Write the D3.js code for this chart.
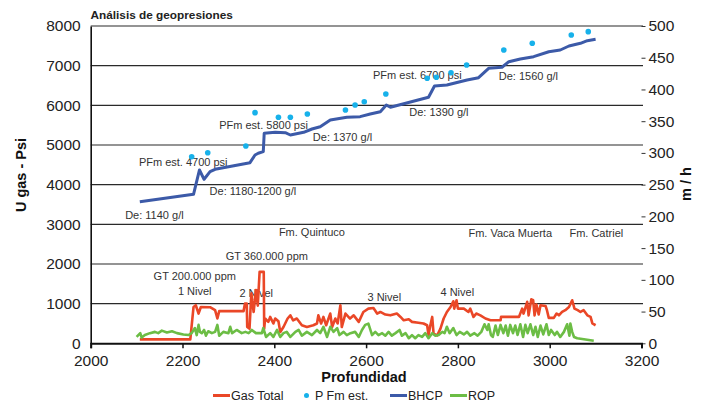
<!DOCTYPE html>
<html>
<head>
<meta charset="utf-8">
<script src="https://cdn.jsdelivr.net/npm/d3@7"></script>
<style>
  body { margin: 0; background: #fff; }
  svg { font-family: "Liberation Sans", Arial, sans-serif; }
</style>
</head>
<body>
<svg id="chart" width="702" height="406"></svg>
<script>
// Gas Total (U gas), left axis
const gasDepth = [2107,2217,2224,2229,2235,2240,2260,2271,2276,2280,2333,2336,2340,2341,2346,2350,2355,2360,2364,2368,2377,2378,2380,2387,2391,2398,2402,2409,2413,2420,2429,2435,2441,2449,2460,2471,2485,2493,2496,2502,2507,2513,2522,2526,2533,2538,2544,2547,2555,2565,2573,2584,2594,2605,2616,2624,2631,2642,2653,2667,2675,2682,2693,2700,2714,2725,2733,2736,2740,2744,2747,2755,2762,2769,2776,2784,2790,2792,2797,2800,2813,2823,2827,2834,2840,2849,2860,2871,2893,2894,2933,2940,2943,2951,2954,2960,2964,2967,2971,2976,2980,2991,2994,2998,3009,3015,3020,3027,3034,3042,3049,3054,3061,3067,3074,3082,3089,3093,3100];
const gasValue = [100,100,915,960,750,915,910,835,625,810,810,1000,1000,410,370,1260,790,1340,950,1800,1800,370,625,540,665,500,625,555,285,410,625,705,580,625,455,410,455,500,705,500,665,455,750,410,625,500,960,410,750,625,705,540,790,875,890,750,790,725,705,750,665,580,605,540,520,500,455,200,455,665,245,200,370,625,790,915,1060,875,1085,875,875,790,875,665,750,705,625,580,580,665,665,875,750,1045,705,1110,1085,705,980,725,960,940,835,640,640,750,705,790,835,915,1085,875,835,790,835,705,665,500,455];

// ROP (m/h), right axis
const ropDepth = [2100,2108,2111,2118,2129,2140,2147,2155,2166,2177,2188,2202,2213,2220,2227,2231,2235,2238,2242,2247,2251,2256,2264,2271,2276,2280,2289,2300,2304,2308,2318,2329,2337,2344,2351,2360,2373,2376,2382,2391,2398,2406,2413,2420,2427,2435,2446,2453,2460,2471,2482,2493,2500,2507,2515,2522,2529,2537,2542,2551,2558,2566,2576,2584,2591,2598,2605,2613,2620,2627,2635,2642,2649,2656,2664,2673,2678,2686,2693,2700,2707,2714,2722,2729,2736,2744,2751,2758,2766,2771,2776,2782,2790,2797,2804,2813,2820,2827,2836,2843,2851,2858,2864,2867,2872,2876,2882,2887,2893,2899,2904,2909,2914,2920,2925,2930,2936,2942,2947,2952,2958,2964,2969,2974,2980,2986,2993,2998,3003,3011,3016,3023,3031,3038,3043,3045,3049,3053,3060,3096];
const ropValue = [10,16,9,13,16,18,16,20,17,19,16,14,13,16,24,13,29,18,16,21,12,19,16,18,29,12,18,16,26,16,21,16,18,16,21,16,16,24,10,16,10,21,10,16,18,10,18,21,12,18,13,21,16,26,10,26,18,24,13,18,13,16,18,10,21,29,31,13,18,13,16,12,18,12,16,21,12,16,8,13,8,13,10,16,8,16,12,13,18,16,26,16,24,13,18,14,18,12,16,12,18,30,21,30,13,10,28,13,29,16,28,12,29,16,28,13,30,10,29,16,30,13,26,10,28,14,30,13,21,13,18,10,18,30,12,31,18,10,8,4];

// BHCP (psi), left axis
const bhcpDepth = [2107,2224,2237,2247,2260,2271,2347,2358,2365,2376,2378,2402,2424,2435,2464,2482,2500,2522,2558,2587,2609,2631,2644,2653,2736,2749,2776,2820,2845,2867,2896,2911,2936,2965,2998,3023,3042,3067,3082,3100];
const bhcpValue = [3570,3757,4370,4135,4327,4387,4554,4748,4791,4831,5295,5320,5310,5252,5320,5403,5461,5630,5698,5714,5782,5840,6009,5951,6203,6488,6513,6639,6697,6934,6959,7100,7168,7227,7352,7395,7496,7564,7630,7665];

// P Fm est. (psi), left axis
const pfmDepth = [2220,2255,2338,2358,2409,2435,2472,2555,2576,2596,2643,2733,2753,2785,2819,2900,2962,3047,3084];
const pfmValue = [4705,4806,4975,5815,5698,5698,5782,5882,6009,6092,6286,6682,6707,6823,7017,7395,7564,7774,7857];

// annotations: text, depth, value (left-aligned, baseline)
const notes = [
  ["PFm est. 4700 psi", 2105, 4478],
  ["De: 1180-1200 g/l", 2259, 3747],
  ["PFm est. 5800 psi", 2280, 5396],
  ["De: 1370 g/l", 2484, 5093],
  ["PFm est. 6700 psi", 2615, 6664],
  ["De: 1390 g/l", 2694, 5731],
  ["De: 1560 g/l", 2889, 6631],
  ["De: 1140 g/l", 2075, 3134],
  ["Fm. Quintuco", 2410, 2713],
  ["GT 360.000 ppm", 2294, 2100],
  ["GT 200.000 ppm", 2137, 1596],
  ["1 Nivel", 2190, 1225],
  ["2 Nivel", 2324, 1160],
  ["3 Nivel", 2603, 1074],
  ["4 Nivel", 2762, 1185],
  ["Fm. Vaca Muerta", 2823, 2673],
  ["Fm. Catriel", 3043, 2673]
];

const leftTicks = d3.range(0, 8001, 1000);
const rightTicks = d3.range(0, 501, 50);
const xTicks = d3.range(2000, 3201, 200);

const legendItems = [
  {name: "Gas Total", type: "line", color: "#ea4727"},
  {name: "P Fm est.", type: "dot", color: "#17b1ea"},
  {name: "BHCP", type: "line", color: "#3c5aa8"},
  {name: "ROP", type: "line", color: "#6cbd45"}
];

const svg = d3.select("#chart");
const margin = {top: 26, right: 60.5, bottom: 62.7, left: 90.7},
    width = 702 - margin.left - margin.right,
    height = 406 - margin.top - margin.bottom;

const x = d3.scaleLinear().domain([2000, 3200]).range([margin.left, margin.left + width]);
const y = d3.scaleLinear().domain([0, 8000]).range([margin.top + height, margin.top]);
const yR = d3.scaleLinear().domain([0, 500]).range([margin.top + height, margin.top]);

// title
svg.append("text")
    .attr("x", 90.5).attr("y", 18.5)
    .attr("font-size", 11.8).attr("font-weight", "bold").attr("fill", "#222")
    .text("Análisis de geopresiones");

// gridlines
svg.append("g").selectAll("line")
    .data(leftTicks.filter(d => d > 0))
    .enter().append("line")
    .attr("x1", margin.left).attr("x2", margin.left + width + 1.5)
    .attr("y1", d => y(d)).attr("y2", d => y(d))
    .attr("stroke", "#2a2a2a").attr("stroke-width", 1.2);

// left axis
const gLeft = svg.append("g")
    .attr("transform", `translate(${margin.left},0)`)
    .call(d3.axisLeft(y).tickValues(leftTicks).tickSize(0).tickPadding(10).tickFormat(d3.format("d")));
gLeft.select(".domain").attr("stroke", "#111").attr("stroke-width", 1.6);
gLeft.selectAll("text").attr("font-size", 15.5).attr("fill", "#222").attr("font-family", "Liberation Sans, Arial");

// right axis
const gRight = svg.append("g")
    .attr("transform", `translate(${margin.left + width},0)`)
    .call(d3.axisRight(yR).tickValues(rightTicks).tickSize(4).tickPadding(3));
gRight.select(".domain").remove();
gRight.selectAll("line").attr("stroke", "#333");
gRight.selectAll("text").attr("font-size", 15.5).attr("fill", "#222").attr("font-family", "Liberation Sans, Arial");

// bottom axis
const gBottom = svg.append("g")
    .attr("transform", `translate(0,${margin.top + height})`)
    .call(d3.axisBottom(x).tickValues(xTicks).tickSize(5).tickPadding(7).tickFormat(d3.format("d")));
gBottom.select(".domain").attr("stroke", "#111").attr("stroke-width", 2);
gBottom.selectAll("line").attr("stroke", "#111").attr("stroke-width", 1.5);
gBottom.selectAll("text").attr("font-size", 15.5).attr("fill", "#222").attr("font-family", "Liberation Sans, Arial");

// axis titles
svg.append("text")
    .attr("transform", "translate(26,175) rotate(-90)")
    .attr("text-anchor", "middle")
    .attr("font-size", 14.5).attr("font-weight", "bold").attr("fill", "#111")
    .text("U gas - Psi");
svg.append("text")
    .attr("transform", "translate(691,184) rotate(-90)")
    .attr("text-anchor", "middle")
    .attr("font-size", 14.5).attr("font-weight", "bold").attr("fill", "#111")
    .text("m / h");
svg.append("text")
    .attr("x", 364).attr("y", 382)
    .attr("text-anchor", "middle")
    .attr("font-size", 14.5).attr("font-weight", "bold").attr("fill", "#111")
    .text("Profundidad");

// annotations
svg.append("g").selectAll("text")
    .data(notes)
    .enter().append("text")
    .attr("x", d => x(d[1])).attr("y", d => y(d[2]))
    .attr("font-size", 11).attr("fill", "#333")
    .text(d => d[0]);

const lineL = d3.line().x(d => x(d[0])).y(d => y(d[1]));
const lineR = d3.line().x(d => x(d[0])).y(d => yR(d[1]));

// Gas Total
svg.append("path")
    .datum(d3.zip(gasDepth, gasValue))
    .attr("fill", "none").attr("stroke", legendItems[0].color)
    .attr("stroke-width", 2.6).attr("stroke-linejoin", "round")
    .attr("d", lineL);

// P Fm est.
svg.append("g").selectAll("circle")
    .data(d3.zip(pfmDepth, pfmValue))
    .enter().append("circle")
    .attr("cx", d => x(d[0])).attr("cy", d => y(d[1]))
    .attr("r", 2.8).attr("fill", legendItems[1].color);

// BHCP
svg.append("path")
    .datum(d3.zip(bhcpDepth, bhcpValue))
    .attr("fill", "none").attr("stroke", legendItems[2].color)
    .attr("stroke-width", 3).attr("stroke-linejoin", "round")
    .attr("d", lineL);

// ROP
svg.append("path")
    .datum(d3.zip(ropDepth, ropValue))
    .attr("fill", "none").attr("stroke", legendItems[3].color)
    .attr("stroke-width", 2.6).attr("stroke-linejoin", "round")
    .attr("d", lineR);

// legend
const legendX = [213, 303, 390, 450];
const lg = svg.append("g").selectAll("g")
    .data(legendItems)
    .enter().append("g")
    .attr("transform", (d, i) => `translate(${legendX[i]},395.5)`);
lg.filter(d => d.type === "line").append("line")
    .attr("x1", 0).attr("x2", 17).attr("y1", 0).attr("y2", 0)
    .attr("stroke", d => d.color).attr("stroke-width", 3);
lg.filter(d => d.type === "dot").append("circle")
    .attr("cx", 3.5).attr("cy", 0).attr("r", 2.5).attr("fill", d => d.color);
lg.append("text")
    .attr("x", d => d.type === "dot" ? 12 : 18).attr("y", 4.5)
    .attr("font-size", 12.5).attr("fill", "#222")
    .text(d => d.name);
</script>
</body>
</html>
